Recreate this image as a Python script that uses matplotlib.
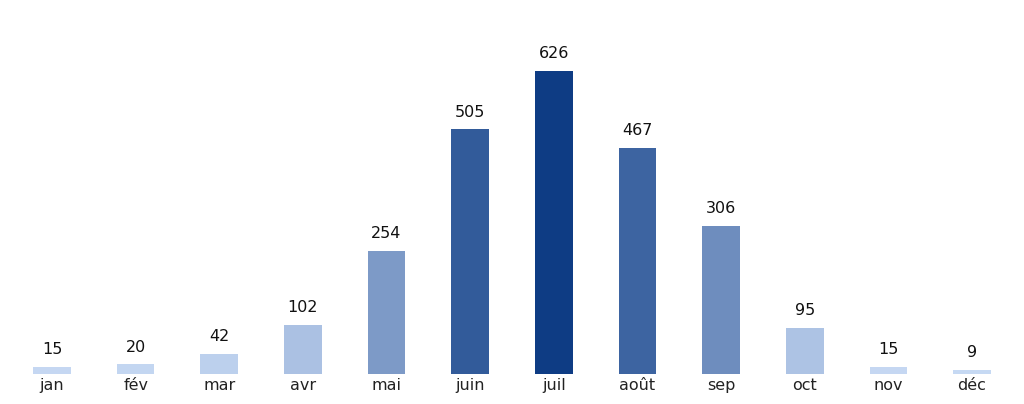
import numpy as np
import matplotlib
matplotlib.use("Agg")
import matplotlib.pyplot as plt
from matplotlib.colors import to_rgb

months = ["jan", "fév", "mar", "avr", "mai", "juin", "juil", "août", "sep", "oct", "nov", "déc"]
counts = [15, 20, 42, 102, 254, 505, 626, 467, 306, 95, 15, 9]

light = np.array(to_rgb("#c9dbf5"))
dark = np.array(to_rgb("#0e3c84"))

# colour each bar by its share of the max
vals = np.array(counts, dtype=float)
t = vals / vals.max()
colors = [tuple(light + (dark - light) * f) for f in t]

fig = plt.figure(figsize=(10.24, 4.04), dpi=100)
ax = fig.add_axes([0.01, 0.074, 0.98, 0.84])

x = np.arange(len(months))
ax.bar(x, counts, width=0.45, color=colors)

for xi, v in zip(x, counts):
    ax.annotate(str(v), (xi, v), xytext=(0, 7), textcoords="offset points",
                ha="center", va="bottom", fontsize=11.5, color="#111111")

ax.set_xlim(-0.5, len(months) - 0.5)
ax.set_ylim(0, 700)
ax.set_xticks(x)
ax.set_xticklabels(months, fontsize=11.5, color="#222222")
ax.tick_params(axis="x", length=0, pad=3)
ax.set_yticks([])
for s in ax.spines.values():
    s.set_visible(False)

fig.savefig("out.png", dpi=100)
